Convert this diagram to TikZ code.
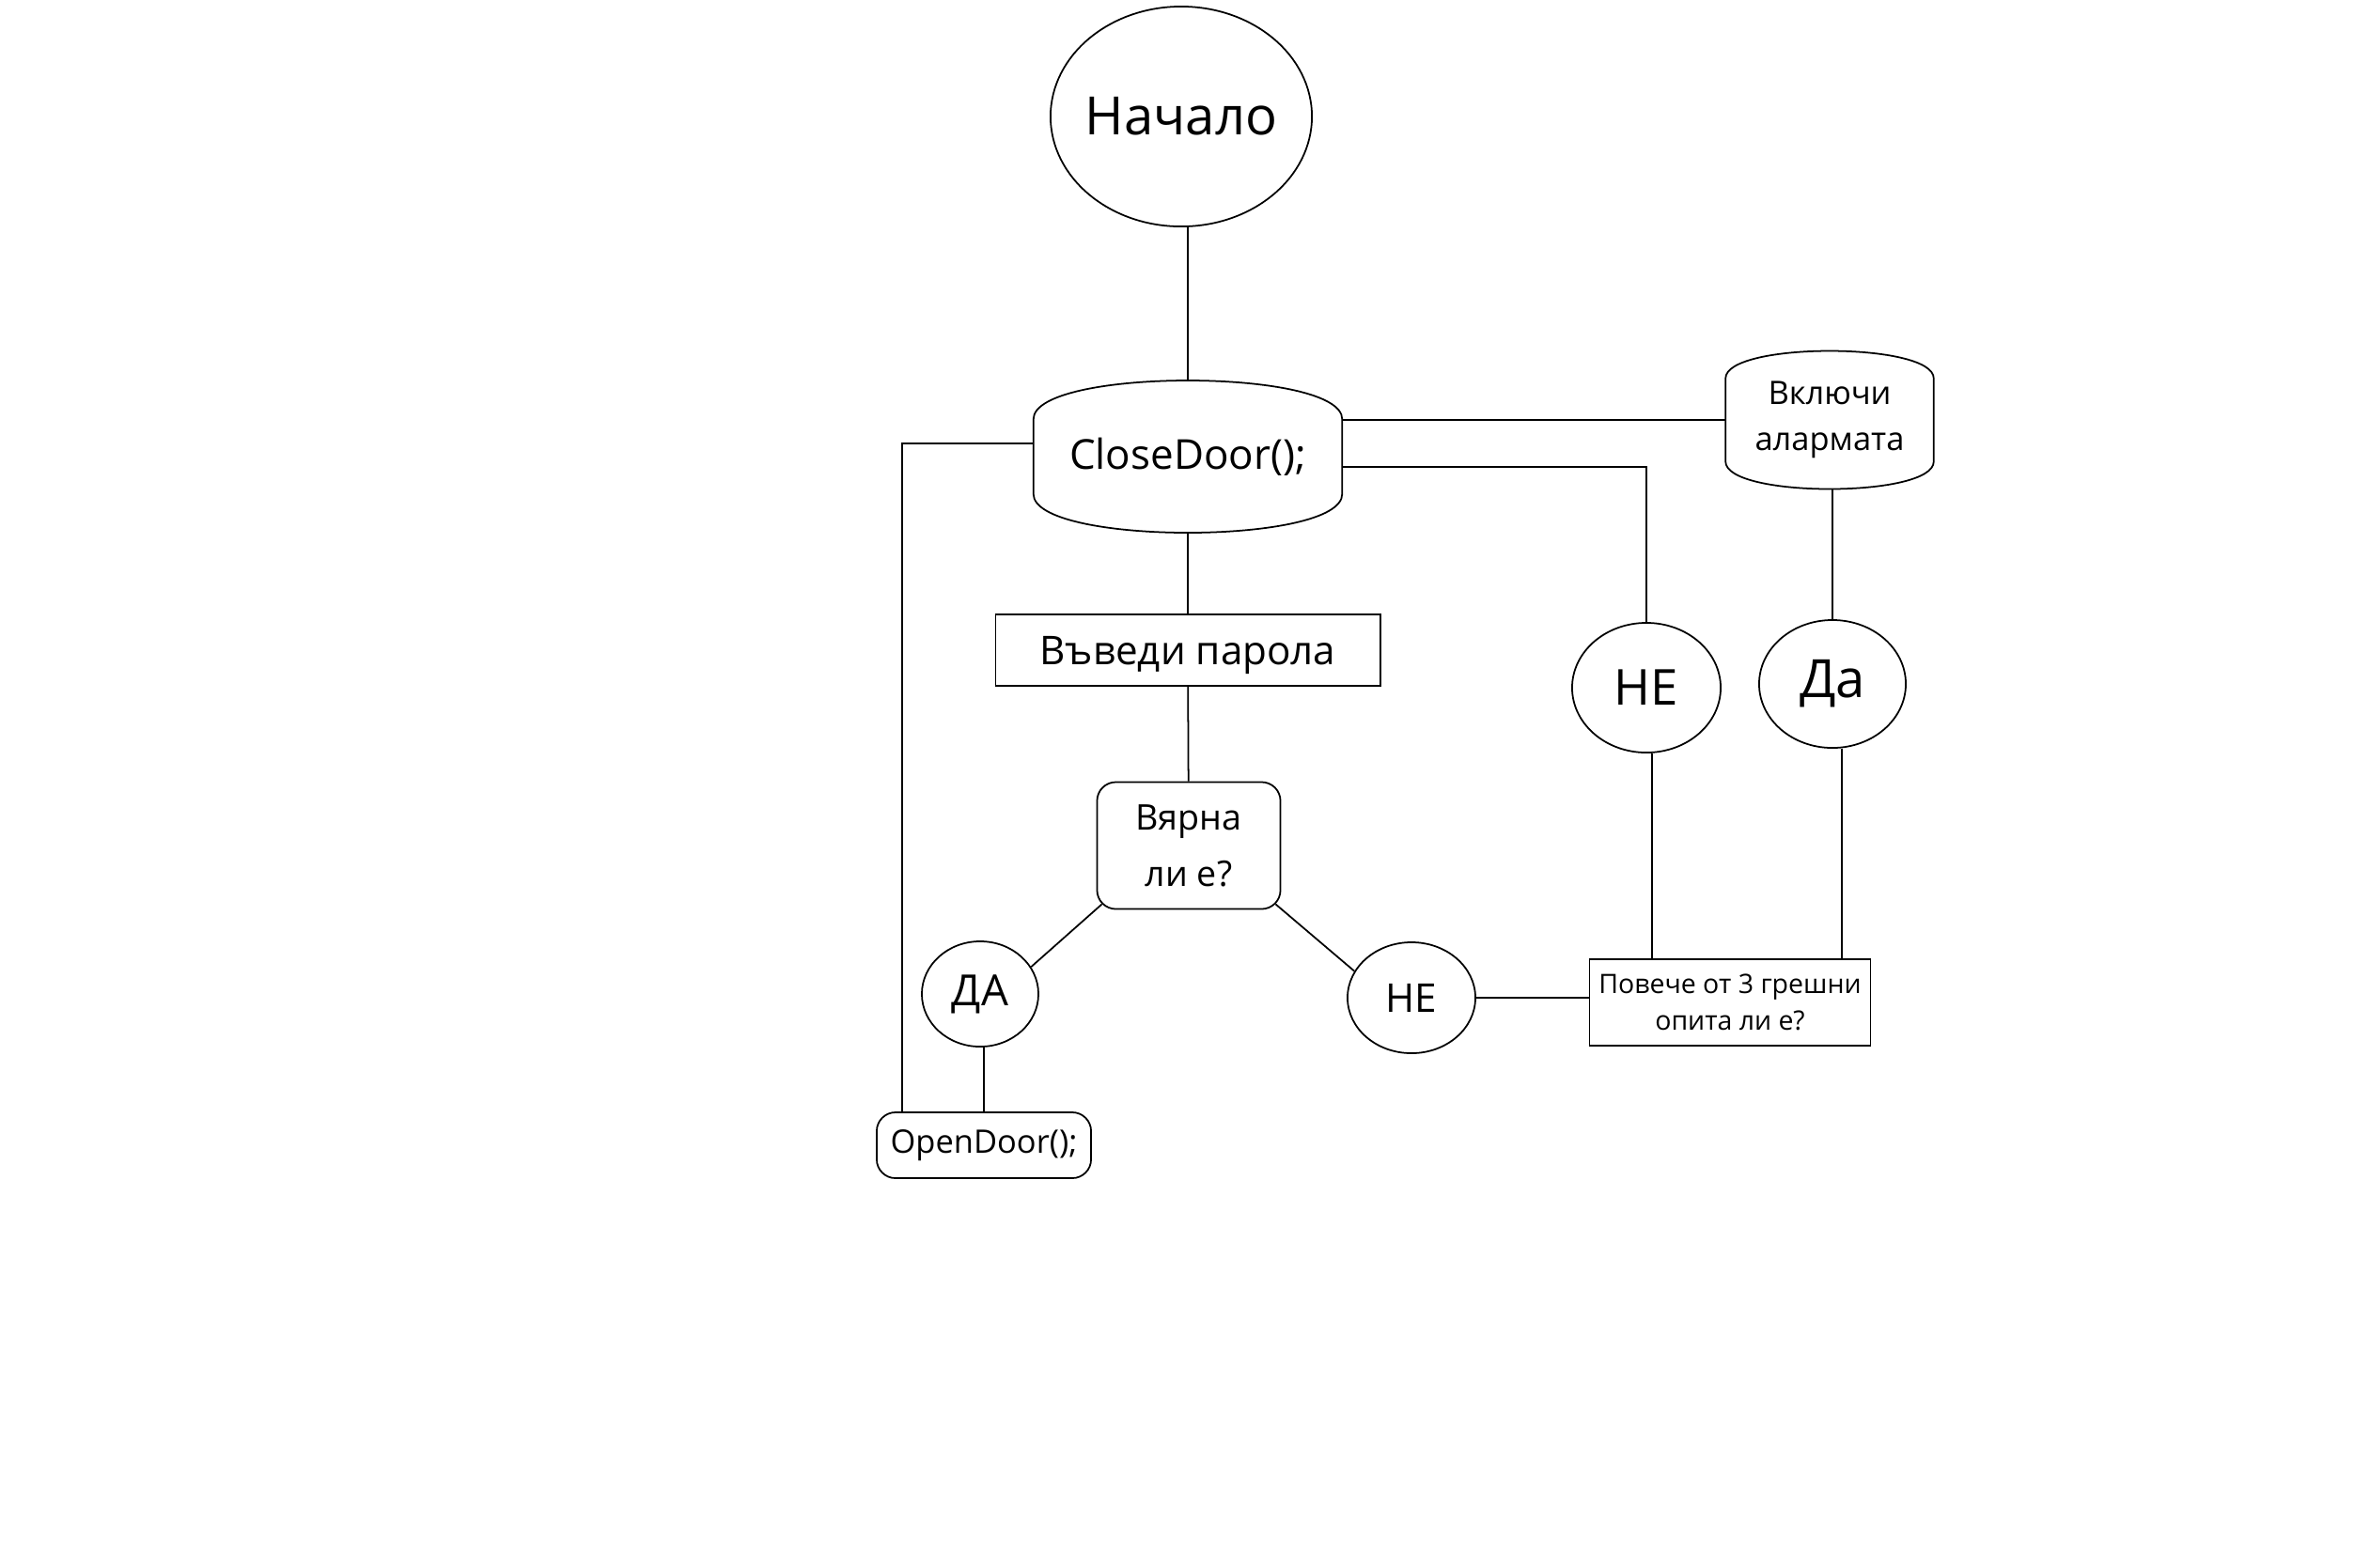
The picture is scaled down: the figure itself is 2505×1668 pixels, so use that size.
\documentclass[tikz,border=0pt]{standalone}
\usepackage{fontspec}
\setmainfont{Open Sans}
\usetikzlibrary{shapes.geometric,calc,positioning}
\tikzset{
  oval/.style={ellipse, draw=black, line width=0.5pt, inner sep=0pt, align=center},
  plainbox/.style={rectangle, draw=black, line width=0.5pt, inner sep=0pt, align=center},
  softbox/.style={rectangle, rounded corners=2mm, draw=black, line width=0.5pt,
                  inner sep=0pt, align=center},
  barrel/.style={rectangle, inner sep=0pt, align=center},
  ln/.style={line width=0.5pt},
}

\begin{document}
\begin{tikzpicture}[x=0.01cm, y=-0.01cm]
  \path[use as bounding box, fill=white] (0,0) rectangle (2505,1668);

  % ============ main column ============
  \node[oval, inner sep=-0.6mm, minimum width=2.78cm, minimum height=2.34cm,
        font=\fontsize{16}{19}\selectfont] (st) at (1257,124) {Начало};
  \node[barrel, minimum width=3.27cm, minimum height=1.60cm,
        font=\fontsize{12.5}{15}\selectfont] (cd) at (1264,486) {CloseDoor();};
  \node[plainbox, text depth=0pt, minimum width=4.09cm, minimum height=0.76cm,
        font=\fontsize{12}{14}\selectfont] (vp) at (1264,692) {Въведи парола};
  \node[softbox, minimum width=1.95cm, minimum height=1.35cm,
        font=\fontsize{10.7}{17}\selectfont] (vr) at (1265,900) {Вярна\\ли е?};

  % the barrel outline of CloseDoor
  \draw[ln] ($(cd.north west)+(0,41)$) .. controls +(0,-55) and +(0,-55) .. ($(cd.north east)+(0,41)$)
    -- ($(cd.south east)+(0,-41)$) .. controls +(0,55) and +(0,55) .. ($(cd.south west)+(0,-41)$)
    -- cycle;

  % ============ answers ============
  \node[oval, minimum width=1.24cm, minimum height=1.12cm,
        font=\fontsize{13}{15}\selectfont] (da) at (1043,1058) {ДА};
  \node[oval, minimum width=1.36cm, minimum height=1.18cm,
        font=\fontsize{12}{14}\selectfont] (ne2) at (1502,1062) {НЕ};
  \node[softbox, minimum width=2.28cm, minimum height=0.70cm,
        font=\fontsize{9.8}{12}\selectfont] (od) at (1047,1219) {OpenDoor();};
  \node[plainbox, minimum width=2.99cm, minimum height=0.92cm,
        font=\fontsize{8.1}{10.9}\selectfont] (pv) at (1841,1067)
    {Повече от 3 грешни\\опита ли е?};

  % ============ alarm branch ============
  \node[barrel, minimum width=2.20cm, minimum height=1.45cm,
        font=\fontsize{9.8}{14}\selectfont] (al) at (1947,447) {Включи\\алармата};
  \draw[ln] ($(al.north west)+(0,29)$) .. controls +(0,-39) and +(0,-39) .. ($(al.north east)+(0,29)$)
    -- ($(al.south east)+(0,-29)$) .. controls +(0,39) and +(0,39) .. ($(al.south west)+(0,-29)$)
    -- cycle;
  \node[oval, minimum width=1.58cm, minimum height=1.38cm,
        font=\fontsize{15}{18}\selectfont] (ne1) at (1752,732) {НЕ};
  \node[oval, minimum width=1.56cm, minimum height=1.36cm,
        font=\fontsize{16}{19}\selectfont] (da2) at (1950,728) {Да};

  % ============ connectors ============
  \draw[ln] (cd.north |- st.south) -- (cd.north);
  \draw[ln] (cd) -- (vp);
  \draw[ln] (vp) -- (vr);
  \draw[ln] ($(vr.south west)+(6,-6)$) -- (da.28);
  \draw[ln] ($(vr.south east)+(-6,-6)$) -- (ne2.155);
  \draw[ln] (od.north |- da.south) -- (od.north);
  \draw[ln] (ne2.east) -- (ne2.east -| pv.west);

  \coordinate (lft) at (960,472);
  \draw[ln] (cd.west |- lft) -- (lft) -- (lft |- od.north);

  \draw[ln] (cd.east |- al.west) -- (al.west);
  \coordinate (rgt) at (1752,497);
  \draw[ln] (cd.east |- rgt) -- (rgt) -- (ne1.north);
  \draw[ln] (al.south -| da2.north) -- (da2.north);
  \draw[ln] ($(ne1.south)+(6,0)$) -- ($(ne1.south |- pv.north)+(6,0)$);
  \draw[ln] ($(da2.south)+(10,0)$) -- ($(da2.south |- pv.north)+(10,0)$);

\end{tikzpicture}
\end{document}
